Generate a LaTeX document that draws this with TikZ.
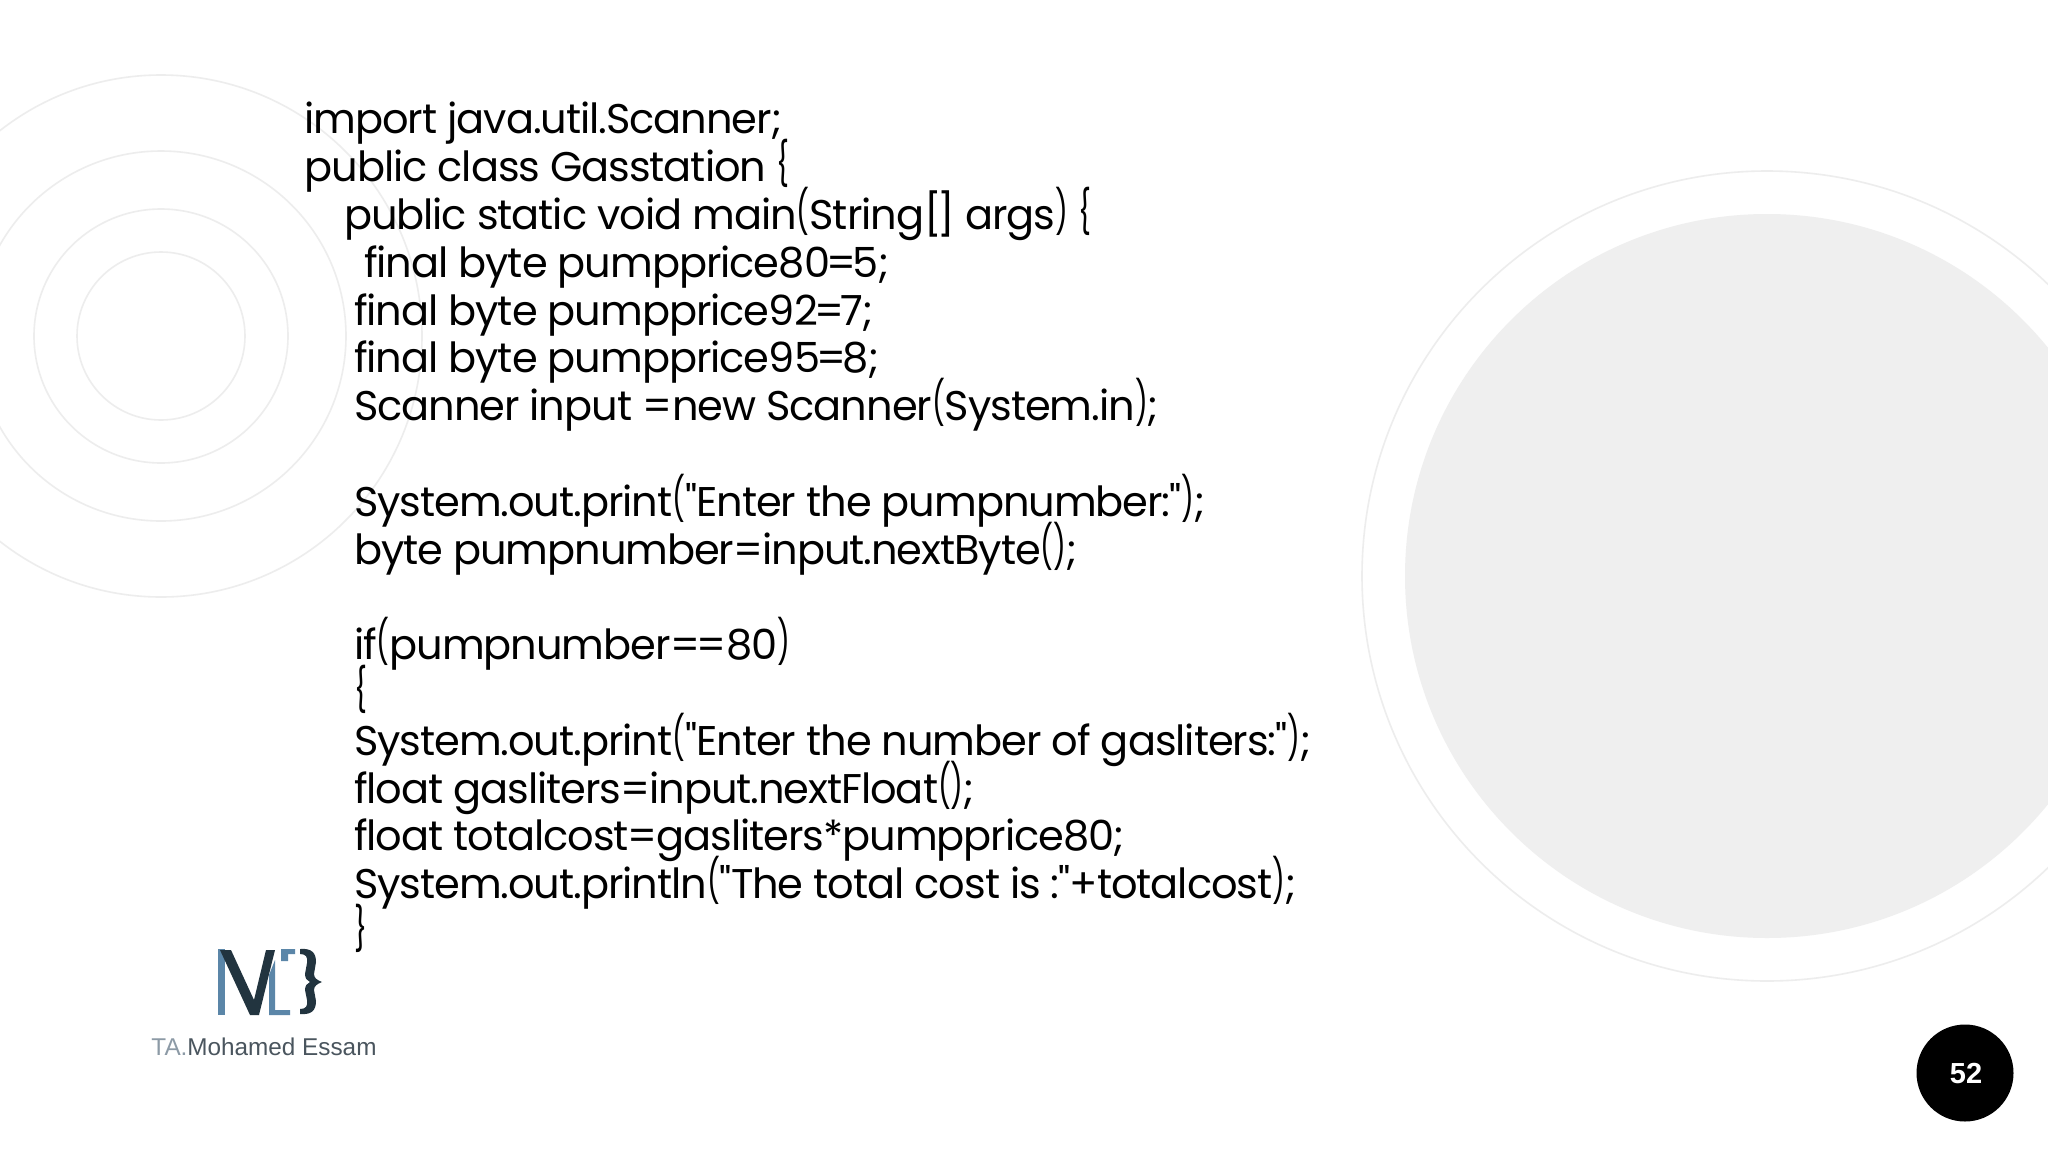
\documentclass[tikz,border=0pt]{standalone}
\usepackage{fontspec}
\usepackage{graphicx}
\setmainfont{Poppins}
\newfontfamily\codefont[LetterSpace=-2.5]{Poppins}
\newfontfamily\tightfont[LetterSpace=-10]{Poppins}
\newfontfamily\logofont{Liberation Sans}
\newcommand{\tallglyph}[1]{\raisebox{2pt}{\scalebox{.68}[1.04]{#1}}}
\newcommand{\lp}{\tallglyph{(}}
\newcommand{\rp}{\tallglyph{)}}
\newcommand{\lb}{\tallglyph{\{}}
\newcommand{\rb}{\tallglyph{\}}}
\newcommand{\tight}[1]{{\tightfont #1}}
\definecolor{ringgray}{HTML}{EDEDED}
\definecolor{discgray}{HTML}{EFEFEF}
\definecolor{logoblue}{HTML}{5B86A8}
\definecolor{logodark}{HTML}{22343F}
\definecolor{logotextc}{HTML}{4A555E}
\definecolor{logota}{HTML}{8C9AA6}
\tikzset{
  ring/.style={draw=ringgray,line width=1.6pt,fill=none},
  code/.style={anchor=base west,inner sep=0pt,outer sep=0pt,font=\codefont\fontsize{41.5pt}{48pt}\selectfont,text=black},
}
\begin{document}
\begin{tikzpicture}[x=1pt,y=-1pt]
\useasboundingbox (0,0) rectangle (2048,1152);
\fill[white] (0,0) rectangle (2048,1152);
\begin{scope}
\clip (0,0) rectangle (2048,1152);
\foreach \r in {84,127,185,261} \draw[ring] (161,336) circle[radius=\r];
\draw[ring] (1767,576) circle[radius=405];
\fill[discgray] (1767,576) circle[radius=362];
\end{scope}
% code
\node[code] (l1) at (304.5,133.5) {import java.util.Scanner;};
\node[code] (l2) at (304.5,181.5) {public class Gasstation \lb};
\node[code] (l3) at (344,229) {public static void main\lp String\tight{[]} args\rp{} \lb};
\node[code] (l4) at (364,277) {final byte pumpprice8\tight{0=5};};
\node[code] (l5) at (354,325) {final byte pumpprice9\tight{2=7};};
\node[code] (l6) at (354,372.5) {final byte pumpprice9\tight{5=8};};
\node[code] (l7) at (354,420.5) {Scanner input \tight{=}new Scanner\lp System.in\rp;};
\node[code] (l8) at (354,516) {System.out.print\lp"Enter the pumpnumber:"\rp;};
\node[code] (l9) at (354,564) {byte pumpnumber=input.nextByte\lp\rp;};
\node[code] (l10) at (354,659.5) {if\lp pumpnumber\tight{==}80\rp};
\node[code] (l11) at (354,707.5) {\lb};
\node[code] (l12) at (354,755) {System.out.print\lp"Enter the number of gasliters:"\rp;};
\node[code] (l13) at (354,803) {float gasliters=input.nextFloat\lp\rp;};
\node[code] (l14) at (354,850.5) {float totalcost=gasliters*pumpprice80;};
\node[code] (l15) at (354,898.5) {System.out.println\lp"The total cost is :"+totalcost\rp;};
\node[code] (l16) at (354,946.5) {\rb};
% logo
\fill[logoblue] (218,949) -- (225,949) -- (225,1015) -- (218,1015) -- cycle;
\fill[logodark] (220,950) -- (231,950) -- (254,1000) -- (266,950) -- (275,950) -- (259,1015) -- (250,1015) -- cycle;
\fill[logoblue] (269,975) -- (275,960) -- (275,1010) -- (290,1010) -- (290,1015) -- (269,1015) -- cycle;
\fill[logoblue] (281,949) -- (295,949) -- (295,954) -- (288,954) -- (288,961) -- (281,961) -- cycle;
\fill[logodark] (300,949) .. controls (312,948) and (316,953) .. (316,962) -- (314,974) .. controls (314,978) and (317,980) .. (322,982)
  .. controls (317,984) and (314,986) .. (314,990) -- (316,1001) .. controls (316,1010) and (312,1015) .. (300,1014)
  -- (300,1009) .. controls (306,1009) and (308,1006) .. (307,1000) -- (305,990) .. controls (305,986) and (307,983) .. (310,982)
  .. controls (307,981) and (305,978) .. (305,974) -- (307,963) .. controls (308,957) and (306,954) .. (300,954) -- cycle;
\node[inner sep=0pt,font=\logofont\fontsize{24.3pt}{25pt}\selectfont] (logotext) at (264,1047) {\textcolor{logota}{TA.}\textcolor{logotextc}{Mohamed Essam}};
% badge
\fill[black] (1965,1073) circle[radius=48.5];
\node[inner sep=0pt,text=white,font=\logofont\bfseries\fontsize{29pt}{29pt}\selectfont] (badge) at (1966,1073) {52};
\end{tikzpicture}
\end{document}
